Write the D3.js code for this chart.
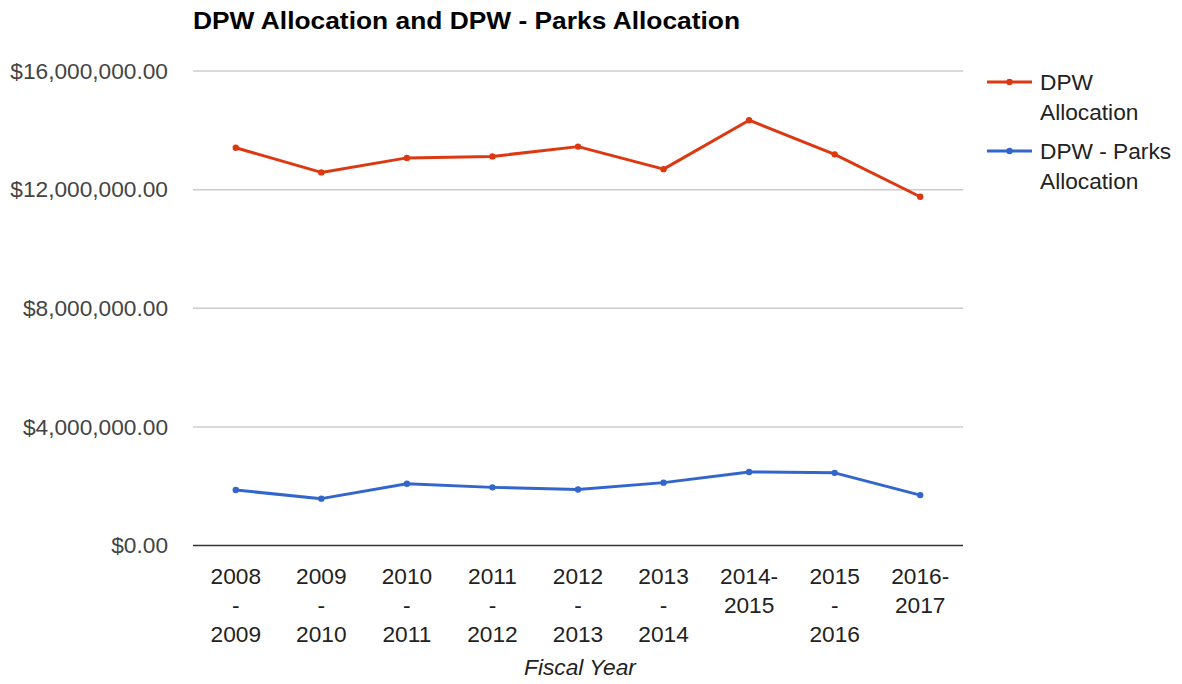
<!DOCTYPE html>
<html><head><meta charset="utf-8">
<script src="https://cdn.jsdelivr.net/npm/d3@7"></script>
<style>body{margin:0;background:#fff;}svg{display:block;font-family:Arial,"Liberation Sans",sans-serif;}</style>
</head><body>
<svg id="c" width="1182" height="684"></svg>
<script>
const categories = ["2008 - 2009","2009 - 2010","2010 - 2011","2011 - 2012","2012 - 2013","2013 - 2014","2014-2015","2015 - 2016","2016-2017"];
const dpwAllocation = [13410000,12580000,13070000,13120000,13450000,12690000,14340000,13190000,11760000];
const parksAllocation = [1870000,1580000,2080000,1960000,1890000,2120000,2480000,2450000,1700000];
const seriesNames = ["DPW Allocation","DPW - Parks Allocation"];
const seriesLegendLines = [["DPW","Allocation"],["DPW - Parks","Allocation"]];
const yTicks = [0,4000000,8000000,12000000,16000000];
const colors = ["#dc3912","#3366cc"];

const FS = 22.7;
const svg = d3.select("#c");
const pLeft = 193, pRight = 963, pTop = 71, pBottom = 545.5;
const x = d3.scaleBand().domain(categories).range([pLeft,pRight]);
const y = d3.scaleLinear().domain([0,16000000]).range([pBottom,pTop]);
const fmt = v => "$" + d3.format(",.2f")(v);

// title
svg.append("text").attr("x",193).attr("y",29).attr("font-size",24).attr("font-weight","bold").attr("fill","#000")
  .attr("textLength",547).attr("lengthAdjust","spacingAndGlyphs")
  .text("DPW Allocation and DPW - Parks Allocation");

// gridlines
svg.append("g").selectAll("line").data(yTicks.filter(d=>d>0)).join("line")
  .attr("x1",pLeft).attr("x2",pRight).attr("y1",d=>y(d)).attr("y2",d=>y(d))
  .attr("stroke","#cccccc").attr("stroke-width",1.5);

// y axis labels
const yAxis = d3.axisLeft(y).tickValues(yTicks).tickFormat(fmt).tickSize(0).tickPadding(25);
const gy = svg.append("g").attr("transform",`translate(${pLeft},0)`).call(yAxis);
gy.select(".domain").remove();
gy.selectAll("text").attr("font-size",FS).attr("fill","#444").attr("font-family","Arial,'Liberation Sans',sans-serif");

// baseline
svg.append("line").attr("x1",pLeft).attr("x2",pRight).attr("y1",y(0)).attr("y2",y(0)).attr("stroke","#333").attr("stroke-width",1.5);

// x axis labels
function splitLabel(s){
  if (s.includes(" - ")) { const p = s.split(" - "); return [p[0],"-",p[1]]; }
  const p = s.split("-"); return [p[0]+"-",p[1]];
}
const xAxis = d3.axisBottom(x).tickSize(0).tickFormat("");
const gx = svg.append("g").attr("transform",`translate(0,${pBottom})`).call(xAxis);
gx.select(".domain").remove();
gx.selectAll(".tick").each(function(d){
  const t = d3.select(this).append("text").attr("fill","#222").attr("font-size",FS).attr("text-anchor","middle")
    .attr("font-family","Arial,'Liberation Sans',sans-serif");
  splitLabel(d).forEach((ln,i)=>{
    t.append("tspan").attr("x",0).attr("y",38 + i*29).text(ln);
  });
});

// axis title
svg.append("text").attr("x",580).attr("y",675).attr("text-anchor","middle")
  .attr("font-size",FS).attr("font-style","italic").attr("fill","#222").text("Fiscal Year");

// lines
const allSeries = [dpwAllocation, parksAllocation];
const line = d3.line().x((d,i)=>x(categories[i])+x.bandwidth()/2).y(d=>y(d));
allSeries.forEach((vals,si)=>{
  const g = svg.append("g");
  g.append("path").datum(vals).attr("d",line).attr("fill","none").attr("stroke",colors[si]).attr("stroke-width",3).attr("stroke-linejoin","round");
  g.selectAll("circle").data(vals).join("circle")
    .attr("cx",(d,i)=>x(categories[i])+x.bandwidth()/2).attr("cy",d=>y(d)).attr("r",3.2).attr("fill",colors[si]);
});

// legend
const legendY = [82,151];
seriesNames.forEach((name,i)=>{
  const g = svg.append("g").attr("transform",`translate(987,${legendY[i]})`);
  g.append("line").attr("x1",0).attr("x2",45).attr("y1",0).attr("y2",0).attr("stroke",colors[i]).attr("stroke-width",3);
  g.append("circle").attr("cx",22.5).attr("cy",0).attr("r",3.2).attr("fill",colors[i]);
  const t = g.append("text").attr("font-size",FS).attr("fill","#222");
  seriesLegendLines[i].forEach((ln,j)=>t.append("tspan").attr("x",53).attr("y",8 + j*30).text(ln));
});
</script>
</body></html>
